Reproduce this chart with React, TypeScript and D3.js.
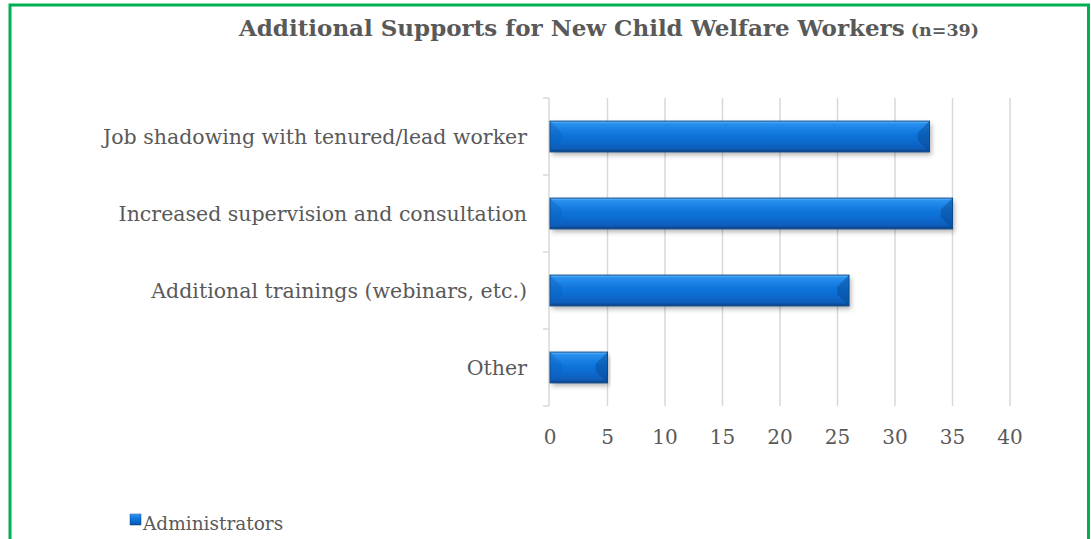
import React from "react";
import * as d3 from "d3";

const categories = [
  "Job shadowing with tenured/lead worker",
  "Increased supervision and consultation",
  "Additional trainings (webinars, etc.)",
  "Other",
];
const administrators = [33, 35, 26, 5];
const xTicks = [0, 5, 10, 15, 20, 25, 30, 35, 40];
const seriesName = "Administrators";
const titleMain = "Additional Supports for New Child Welfare Workers";
const titleSub = "(n=39)";

const W = 1091;
const H = 539;
const FONT = "'DejaVu Serif', 'Liberation Serif', serif";
const TEXT = "#595959";

export default function App() {
  const x = d3.scaleLinear().domain([0, 40]).range([550, 1010]);
  const y = d3.scaleBand().domain(categories).range([98, 406]).paddingInner(0.6).paddingOuter(0.3);
  const band = d3.scaleBand().domain(categories).range([98, 406]);
  const bh = y.bandwidth();
  const bounds = [98, ...categories.map((c) => (band(c) as number) + band.bandwidth())];

  return (
    <svg width={W} height={H} style={{ position: "absolute", left: 0, top: 0, background: "#fff" }}>
      <defs>
        <linearGradient id="barG" x1="0" y1="0" x2="0" y2="1">
          <stop offset="0%" stopColor="#6cc0ff" />
          <stop offset="8%" stopColor="#2a90ee" />
          <stop offset="35%" stopColor="#137ae0" />
          <stop offset="70%" stopColor="#0a68cc" />
          <stop offset="90%" stopColor="#0a5cb8" />
          <stop offset="100%" stopColor="#083f80" />
        </linearGradient>
        <filter id="sh" x="-5%" y="-30%" width="110%" height="170%">
          <feDropShadow dx="2" dy="3" stdDeviation="2.5" floodColor="#000" floodOpacity="0.3" />
        </filter>
      </defs>
      <rect x={10} y={5} width={1078.5} height={560} fill="none" stroke="#00B050" strokeWidth={3} />

      <text x={609} y={36} textAnchor="middle" fill={TEXT} fontFamily={FONT} fontWeight="bold">
        <tspan fontSize={23}>{titleMain}</tspan>
        <tspan fontSize={17.5}>{" " + titleSub}</tspan>
      </text>

      {xTicks.slice(1).map((t) => (
        <line key={t} x1={x(t)} x2={x(t)} y1={98} y2={406} stroke="#d9d9d9" strokeWidth={1.5} />
      ))}
      <line x1={549} x2={549} y1={98} y2={406} stroke="#d9d9d9" strokeWidth={1.5} />
      {bounds.map((b, i) => (
        <line key={i} x1={543} x2={549} y1={b} y2={b} stroke="#d9d9d9" strokeWidth={1.5} />
      ))}

      {categories.map((c, i) => {
        const y0 = y(c) as number;
        const x0 = x(0);
        const x1 = x(administrators[i]);
        const bev = 12;
        const bv = Math.min(12, bh / 2 - 2);
        return (
          <g key={c}>
            <rect x={x0} y={y0} width={x1 - x0} height={bh} fill="url(#barG)" filter="url(#sh)" />
            <polygon
              points={`${x1},${y0} ${x1},${y0 + bh} ${x1 - bev},${y0 + bh - bv} ${x1 - bev},${y0 + bv}`}
              fill="#07478f"
              opacity={0.45}
            />
            <polygon
              points={`${x0},${y0} ${x0 + bev},${y0 + bv} ${x0 + bev},${y0 + bh - bv} ${x0},${y0 + bh}`}
              fill="#0c5fb8"
              opacity={0.35}
            />
            <rect x={x0} y={y0} width={x1 - x0} height={bh} fill="none" stroke="#0b4a8f" strokeWidth={1} />
            <text
              x={527}
              y={y0 + bh / 2}
              dy="0.36em"
              textAnchor="end"
              fill={TEXT}
              fontFamily={FONT}
              fontSize={20.5}
            >
              {c}
            </text>
          </g>
        );
      })}

      {xTicks.map((t) => (
        <text key={t} x={x(t)} y={444} textAnchor="middle" fill={TEXT} fontFamily={FONT} fontSize={20}>
          {t}
        </text>
      ))}

      <rect x={130} y={514} width={11} height={11} fill="url(#barG)" stroke="#0b4a8f" strokeWidth={0.5} />
      <text x={143} y={530} fill={TEXT} fontFamily={FONT} fontSize={18.5}>
        {seriesName}
      </text>
    </svg>
  );
}
